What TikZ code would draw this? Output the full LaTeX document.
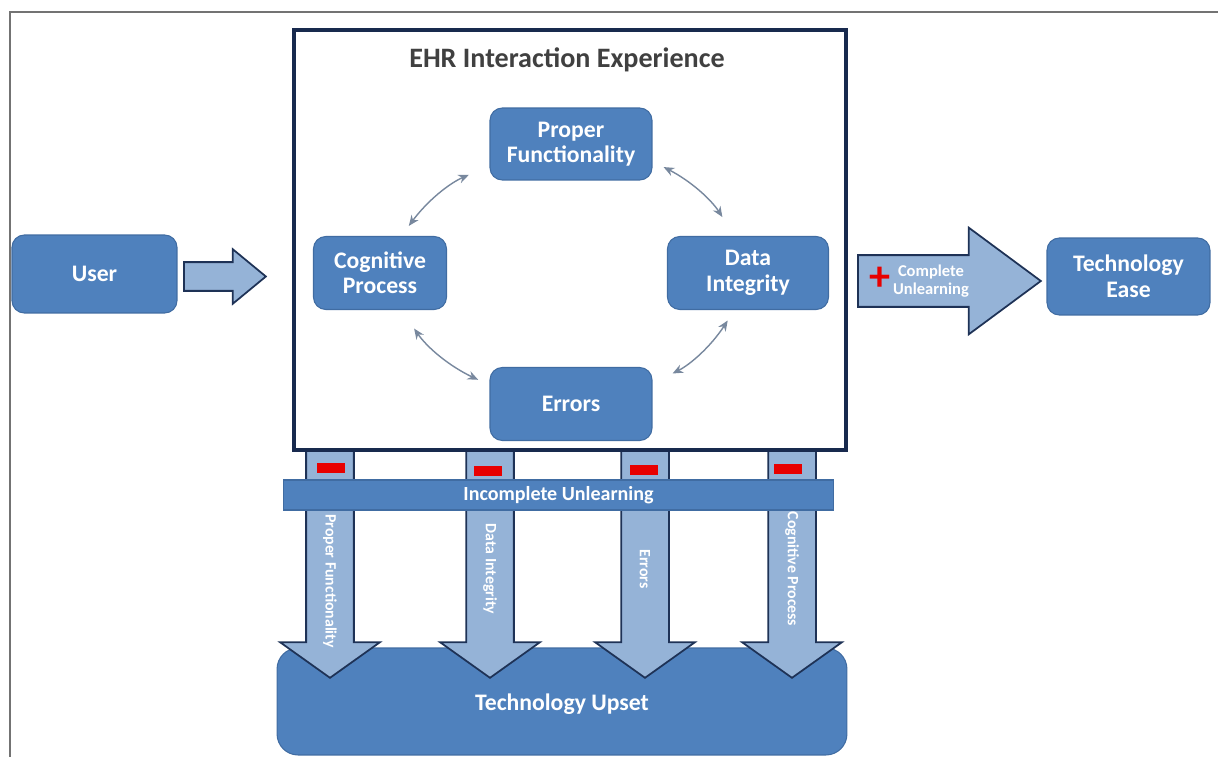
\documentclass[tikz,border=0pt]{standalone}
\usepackage{fontspec}
\setmainfont{Carlito}
\usepackage{xcolor}
\usetikzlibrary{arrows.meta, shapes.arrows}
\definecolor{boxblue}{RGB}{79,129,189}
\definecolor{boxedge}{RGB}{64,108,162}
\definecolor{arrowfill}{RGB}{149,179,215}
\definecolor{arrowedge}{RGB}{30,50,86}
\definecolor{framenavy}{RGB}{24,42,78}
\definecolor{linkgray}{RGB}{120,136,158}
\definecolor{titlegray}{RGB}{64,64,64}
\definecolor{markred}{RGB}{232,0,0}
\tikzset{
blk/.style 2 args = {rectangle, rounded corners=7pt, fill=boxblue, draw=boxedge,
              line width=0.6pt, text=white, align=center,
              font=\bfseries\fontsize{13.5}{14.5}\selectfont,
              minimum width=#1, minimum height=#2, inner sep=0pt},
bigarrow/.style = {single arrow, fill=arrowfill, draw=arrowedge,
              line width=1pt, inner sep=0pt}
}
\tikzset{
link/.style = {<->, >={Stealth[length=6pt, width=5pt]}, draw=linkgray,
              line width=0.8pt, shorten <=0.25cm, shorten >=0.45cm},
redbar/.style = {rectangle, fill=markred, minimum width=0.56cm,
              minimum height=0.2cm, inner sep=0pt},
vlabel/.style = {text=white, rotate=-90, inner sep=0pt,
              font=\bfseries\fontsize{9}{11}\selectfont}
}

\begin{document}
\begin{tikzpicture}[x=0.02cm, y=-0.02cm]
    \useasboundingbox (0,0) rectangle (1218,757);
    % page frame, cut off at right and bottom
    \draw[draw=gray!90!black, line width=1.2pt] (1218,12) -- (10,12) -- (10,757);

    % bottom block first, the arrows sit on it
    \node[blk={11.4cm}{2.14cm}, rounded corners=12pt] (upset) at (562,701.5) {};
    \node[text=white, font=\bfseries\fontsize{13.5}{14.5}\selectfont] (upsetTxt) at (562,704) {Technology Upset};

    \node[bigarrow, rotate=-90, anchor=tail, minimum height=4.54cm, inner ysep=0.46cm,
          single arrow head extend=0.52cm, single arrow tip angle=109] (downPF) at (330,450) {};
    \node[bigarrow, rotate=-90, anchor=tail, minimum height=4.54cm, inner ysep=0.46cm,
          single arrow head extend=0.52cm, single arrow tip angle=109] (downDI) at (490,450) {};
    \node[bigarrow, rotate=-90, anchor=tail, minimum height=4.54cm, inner ysep=0.46cm,
          single arrow head extend=0.52cm, single arrow tip angle=109] (downErr) at (645,450) {};
    \node[bigarrow, rotate=-90, anchor=tail, minimum height=4.54cm, inner ysep=0.46cm,
          single arrow head extend=0.52cm, single arrow tip angle=109] (downCog) at (792,450) {};

    \node[rectangle, fill=boxblue, draw=boxedge, line width=0.6pt, text=white,
          minimum width=11.02cm, minimum height=0.6cm, inner sep=0pt,
          font=\bfseries\fontsize{11.4}{13}\selectfont] (unlearnBar) at (558.5,495) {Incomplete Unlearning};

    \node[redbar] (minusPF) at (331,468) {};
    \node[redbar] (minusDI) at (488,471) {};
    \node[redbar] (minusErr) at (644,470) {};
    \node[redbar] (minusCog) at (788,469) {};

    \node[vlabel] (txtPF) at (330,581) {Proper Functionality};
    \node[vlabel] (txtDI) at (490,569) {Data Integrity};
    \node[vlabel] (txtErr) at (645,569) {Errors};
    \node[vlabel] (txtCog) at (792,569) {Cognitive Process};

    % the experience frame
    \node[rectangle, draw=framenavy, fill=white, line width=1.8pt,
          minimum width=11.04cm, minimum height=8.4cm] (ehr) at (570,240) {};
    \node[text=titlegray, font=\bfseries\fontsize{16}{19}\selectfont] (ehrTitle) at (567,60) {EHR Interaction Experience};

    \node[blk={3.24cm}{1.44cm}] (pf) at (571,144) {Proper\\Functionality};
    \node[blk={2.66cm}{1.46cm}] (cog) at (380,273) {Cognitive\\Process};
    \node[blk={3.22cm}{1.46cm}] (di) at (748,273) {Data\\Integrity};
    \node[blk={3.24cm}{1.46cm}] (err) at (571,404) {Errors};

    \draw[link] (cog.60) to[bend left=15] (pf.195);
    \draw[link] (pf.-12) to[bend left=15] (di.110);
    \draw[link] (di.-110) to[bend left=15] (err.14);
    \draw[link] (err.167) to[bend left=15] (cog.-60);

    % left and right side
    \node[blk={3.3cm}{1.56cm}] (user) at (94.5,274) {User};
    \node[bigarrow, anchor=tail, minimum height=1.64cm, inner ysep=0.27cm,
          single arrow head extend=0.26cm, single arrow tip angle=79] (userArrow) at (183,276.5) {};

    \node[bigarrow, anchor=tail, minimum height=3.66cm, inner ysep=0.5cm,
          single arrow head extend=0.55cm, single arrow tip angle=73] (easeArrow) at (857,281) {};
    \node[text=markred, inner sep=0pt, font=\bfseries\fontsize{24}{24}\selectfont] (plusMark) at (880,279) {+};
    \node[text=white, align=center, inner sep=0pt,
          font=\bfseries\fontsize{9.4}{10.5}\selectfont] (easeTxt) at (931,281) {Complete\\Unlearning};

    \node[blk={3.26cm}{1.54cm}] (ease) at (1128.5,276.5) {Technology\\Ease};
\end{tikzpicture}
\end{document}
